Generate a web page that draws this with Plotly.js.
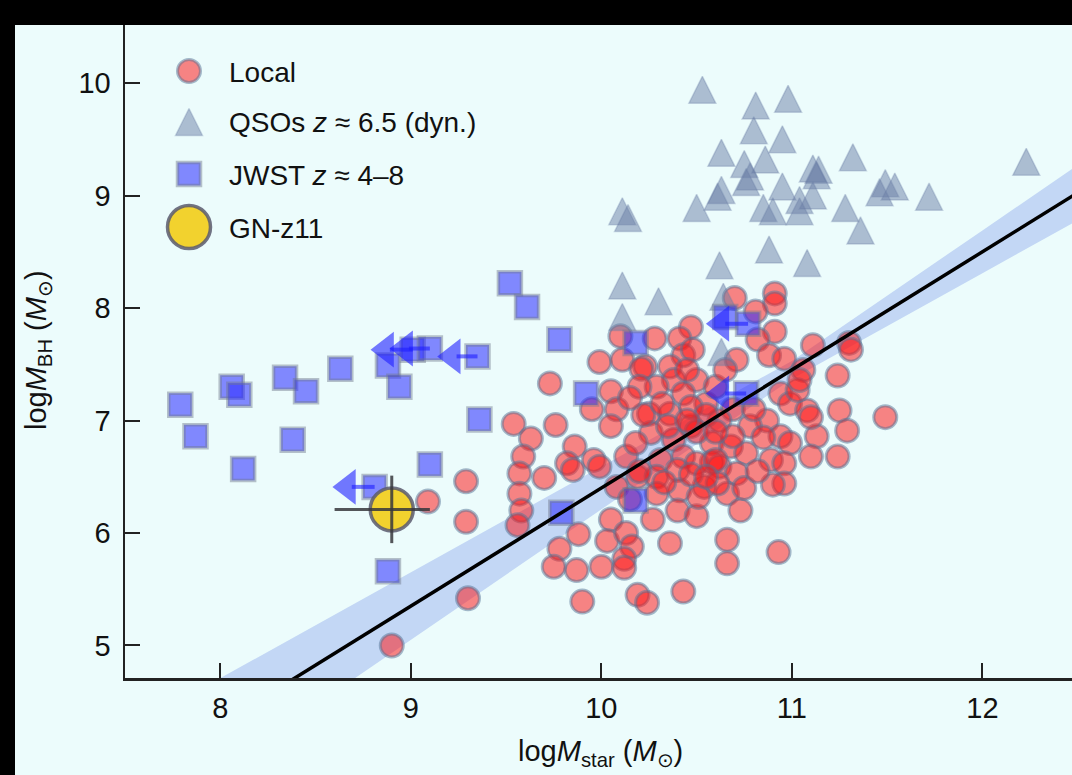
<!DOCTYPE html>
<html>
<head>
<meta charset="utf-8">
<script src="https://cdn.plot.ly/plotly-3.0.1.min.js"></script>
<style>html,body{margin:0;padding:0;background:#000;}</style>
</head>
<body>
<div id="chart" style="width:1072px;height:775px;"></div>
<script>
// ---- Local galaxies ----
const localX = [10.70,10.91,10.91,10.81,10.47,10.91,10.82,10.28,10.41,10.43,10.48,10.36,10.23,10.71,10.88,10.96,11.06,11.11,11.30,11.31,11.24,11.25,11.29,11.49,11.13,11.10,11.24,10.94,10.99,11.08,11.10,11.03,10.87,10.94,10.99,10.78,10.69,10.62,10.25,10.36,10.47,10.26,10.38,10.58,10.68,10.76,10.89,10.43,10.58,10.31,10.38,10.50,10.29,10.43,10.55,11.04,9.73,9.99,10.11,10.10,10.21,9.95,10.05,10.08,10.20,10.22,9.54,9.76,9.63,9.59,9.86,9.82,9.96,10.13,10.47,10.69,9.85,9.70,9.57,9.57,9.58,9.56,9.29,9.29,9.30,9.99,10.19,10.08,10.29,10.40,10.50,10.62,10.71,10.29,10.41,10.54,10.66,10.73,10.40,10.50,10.27,10.36,10.66,10.66,10.05,10.03,10.13,10.16,10.12,10.00,9.88,9.87,9.78,9.75,9.90,10.19,10.24,10.43,10.12,10.96,10.96,10.90,10.61,10.51,10.93,10.47,10.60,9.09,8.90,10.15,10.32,10.45,10.60,10.65,10.55,10.80,10.85,10.50,10.35,10.60,10.18,10.05,10.75,10.82,10.55,10.33,10.15,10.20,10.45];
const localY = [8.09,8.13,8.04,7.97,7.83,7.79,7.72,7.73,7.73,7.58,7.63,7.48,7.48,7.54,7.58,7.55,7.45,7.67,7.69,7.63,7.40,7.09,6.91,7.03,6.86,6.68,6.68,7.24,7.15,7.09,7.03,7.27,7.00,6.86,6.80,6.95,7.10,7.00,7.06,7.06,6.95,6.89,6.83,6.80,6.77,6.71,6.65,6.68,6.63,6.65,7.36,7.36,7.30,7.24,7.15,7.36,7.33,7.52,7.54,7.75,7.46,7.10,7.26,7.10,7.30,7.05,6.97,6.96,6.84,6.68,6.77,6.62,6.65,6.68,7.12,6.86,6.56,6.49,6.53,6.35,6.20,6.07,6.46,6.10,5.42,6.59,6.50,6.41,6.50,6.56,6.62,6.59,6.53,6.35,6.38,6.41,6.35,6.20,6.20,6.15,6.12,5.91,5.94,5.73,6.12,5.93,6.00,5.88,5.77,5.70,5.99,5.67,5.86,5.70,5.39,5.45,5.38,5.48,5.69,6.62,6.44,6.43,6.44,6.32,5.83,6.52,6.65,6.28,5.00,7.20,7.15,7.45,7.30,7.45,7.05,7.10,6.85,6.90,6.95,6.90,6.80,6.95,6.40,6.55,6.50,6.45,6.30,6.55,7.00];

// ---- QSOs z~6.5 (dynamical) ----
const qsoX = [10.53,10.81,10.98,10.80,10.95,10.63,10.75,10.86,10.78,10.76,10.63,10.61,10.50,10.95,11.11,11.14,11.13,11.32,11.04,11.11,10.85,10.90,11.04,11.28,11.36,11.49,11.54,11.46,11.72,12.23,10.11,10.14,10.88,11.08,10.62,10.11,10.30,10.11,10.64,10.63];
const qsoY = [9.94,9.80,9.86,9.58,9.50,9.38,9.28,9.32,9.17,9.12,9.05,8.99,8.89,9.08,9.24,9.23,9.18,9.34,8.96,9.00,8.89,8.86,8.86,8.89,8.69,9.11,9.08,9.03,8.99,9.30,8.86,8.80,8.52,8.40,8.38,8.20,8.06,7.92,8.10,7.61];

// ---- JWST z~4-8 ----
const jwstX = [7.79,7.87,8.06,8.10,8.12,8.34,8.45,8.38,8.63,8.88,8.94,9.01,9.10,9.35,9.36,9.10,8.81,8.88,9.52,9.61,9.78,9.92,10.18,9.79,10.18,10.65,10.77,10.76];
const jwstY = [7.14,6.86,7.30,7.23,6.57,7.38,7.26,6.83,7.46,7.49,7.30,7.63,7.64,7.57,7.01,6.61,6.41,5.66,8.22,8.01,7.72,7.24,7.69,6.18,6.29,7.92,7.86,7.24];

// ---- JWST upper limits on M_star (arrows) ----
const limX = [9.01,9.10,9.35,8.81,10.77,10.76];
const limY = [7.63,7.64,7.57,6.41,7.86,7.24];
const limTipX = [8.79,8.89,9.14,8.59,10.55,10.55];

// ---- GN-z11 ----
const gnX = [8.90];
const gnY = [6.21];
const gnXerrMinus = [0.30];
const gnXerrPlus = [0.20];
const gnYerr = [0.30];

// ---- Local relation and its band ----
const fitX = [7.5, 12.5];
const fitY = [3.775, 9.025];
const bandX = [7.5, 8, 9, 10, 11, 12, 12.5];
const bandUpper = [4.24, 4.71, 5.65, 6.59, 7.53, 8.69, 9.27];
const bandLower = [3.31, 3.89, 5.05, 6.21, 7.37, 8.31, 8.78];

// axis ticks
const xTicks = [8, 9, 10, 11, 12];
const yTicks = [5, 6, 7, 8, 9, 10];

// ---- style ----
const BG = '#ecfcfc';
const FONT = 'Liberation Sans, Arial, Helvetica, sans-serif';
const localStyle = {symbol:'circle', size:23, color:'rgba(255,20,20,0.52)', line:{color:'rgba(85,115,150,0.5)', width:3}};
const qsoStyle = {symbol:'arrow-down', angle:180, standoff:13.5, size:27, color:'rgba(105,125,165,0.5)', line:{color:'rgba(105,125,165,0.3)', width:1.5}};
const jwstStyle = {symbol:'square', size:23, color:'rgba(40,40,255,0.55)', line:{color:'rgba(110,120,140,0.45)', width:3.5}};
const arrowColor = 'rgba(30,30,255,0.6)';
const gnStyle = {symbol:'circle', size:43, color:'#f2d22e', line:{color:'rgba(90,90,110,0.85)', width:3.5}};
const headOffset = 0.08;   // triangle-left marker centre sits right of its tip
const headLen = 0.1;

// arrow shafts and heads
const shaftX = [], shaftY = [], headX = [];
for (let i = 0; i < limX.length; i++) {
  shaftX.push(limX[i], limTipX[i] + headLen, null);
  shaftY.push(limY[i], limY[i], null);
  headX.push(limTipX[i] + headOffset);
}

const traces = [
  {x: bandX, y: bandLower, mode:'lines', line:{width:0, color:'rgba(0,0,0,0)'}, hoverinfo:'skip'},
  {x: bandX, y: bandUpper, mode:'lines', fill:'tonexty', fillcolor:'rgba(100,130,230,0.3)', line:{width:0, color:'rgba(0,0,0,0)'}, hoverinfo:'skip'},
  {x: localX, y: localY, mode:'markers', name:'Local', marker: localStyle},
  {x: qsoX, y: qsoY, mode:'markers', name:'QSOs', marker: qsoStyle},
  {x: jwstX, y: jwstY, mode:'markers', name:'JWST', marker: jwstStyle},
  {x: shaftX, y: shaftY, mode:'lines', line:{color:arrowColor, width:4}, hoverinfo:'skip'},
  {x: headX, y: limY, mode:'markers', marker:{symbol:'triangle-left', size:31, color:arrowColor, line:{width:0}}, hoverinfo:'skip'},
  {x: fitX, y: fitY, mode:'lines', line:{color:'#000', width:3.5}},
  {x: gnX, y: gnY, mode:'markers', name:'GN-z11', marker: gnStyle},
  {x: gnX, y: gnY, mode:'markers', marker:{size:1, opacity:0},
   error_x:{type:'data', symmetric:false, array:gnXerrPlus, arrayminus:gnXerrMinus, color:'rgba(55,55,60,0.85)', thickness:3, width:0},
   error_y:{type:'data', array:gnYerr, color:'rgba(55,55,60,0.85)', thickness:3, width:0}},
  // legend glyphs on a pixel overlay
  {x:[189], y:[71], xaxis:'x2', yaxis:'y2', mode:'markers', marker: localStyle, hoverinfo:'skip'},
  {x:[189], y:[122], xaxis:'x2', yaxis:'y2', mode:'markers', marker: qsoStyle, hoverinfo:'skip'},
  {x:[189], y:[174], xaxis:'x2', yaxis:'y2', mode:'markers', marker: jwstStyle, hoverinfo:'skip'},
  {x:[189], y:[227], xaxis:'x2', yaxis:'y2', mode:'markers', marker: gnStyle, hoverinfo:'skip'}
];

const L = 125, R = 1072, T = 25, B = 678;
const pxX = v => (v - L) / (R - L);
const pxY = v => (B - v) / (B - T);

const legendText = ['Local', 'QSOs <i>z</i> ≈ 6.5 (dyn.)', 'JWST <i>z</i> ≈ 4–8', 'GN-z11'];
const legendY = [72, 122, 175, 228];
const annotations = legendText.map((t, i) => ({
  xref:'x2', yref:'y2', x:227, y:legendY[i], text:t, showarrow:false,
  xanchor:'left', yanchor:'middle', font:{family:FONT, size:28, color:'#111'}
}));
annotations.push({
  xref:'paper', yref:'paper', x:pxX(600), y:pxY(753), showarrow:false,
  text:'log<i>M</i><sub>star</sub> (<i>M</i><sub>⊙</sub>)', xanchor:'center', yanchor:'middle',
  font:{family:FONT, size:29, color:'#111'}
});
annotations.push({
  xref:'paper', yref:'paper', x:pxX(38), y:pxY(350), showarrow:false, textangle:-90,
  text:'log<i>M</i><sub>BH</sub> (<i>M</i><sub>⊙</sub>)', xanchor:'center', yanchor:'middle',
  font:{family:FONT, size:29, color:'#111'}
});

const axisCommon = {
  showgrid:false, zeroline:false, showline:true, linecolor:'#222', linewidth:2.5,
  ticks:'inside', ticklen:15, tickwidth:2, tickcolor:'#222',
  tickfont:{family:FONT, size:29, color:'#111'}, mirror:false, fixedrange:true
};

const layout = {
  width:1072, height:775,
  margin:{l:L, r:1072 - R, t:T, b:775 - B, pad:0},
  paper_bgcolor:'#000', plot_bgcolor:BG,
  showlegend:false,
  xaxis: Object.assign({}, axisCommon, {range:[7.5, 12.47], tickmode:'array', tickvals:xTicks, ticklabelstandoff:3}),
  yaxis: Object.assign({}, axisCommon, {range:[4.711, 10.516], tickmode:'array', tickvals:yTicks, ticklabelstandoff:6}),
  xaxis2: {overlaying:'x', range:[L, R], visible:false, fixedrange:true},
  yaxis2: {overlaying:'y', range:[B, T], visible:false, fixedrange:true},
  shapes:[{type:'rect', xref:'paper', yref:'paper', x0:pxX(15), x1:1, y0:pxY(775), y1:1, fillcolor:BG, line:{width:0}, layer:'below'}],
  annotations: annotations
};

Plotly.newPlot('chart', traces, layout, {displayModeBar:false, staticPlot:true});
</script>
</body>
</html>
